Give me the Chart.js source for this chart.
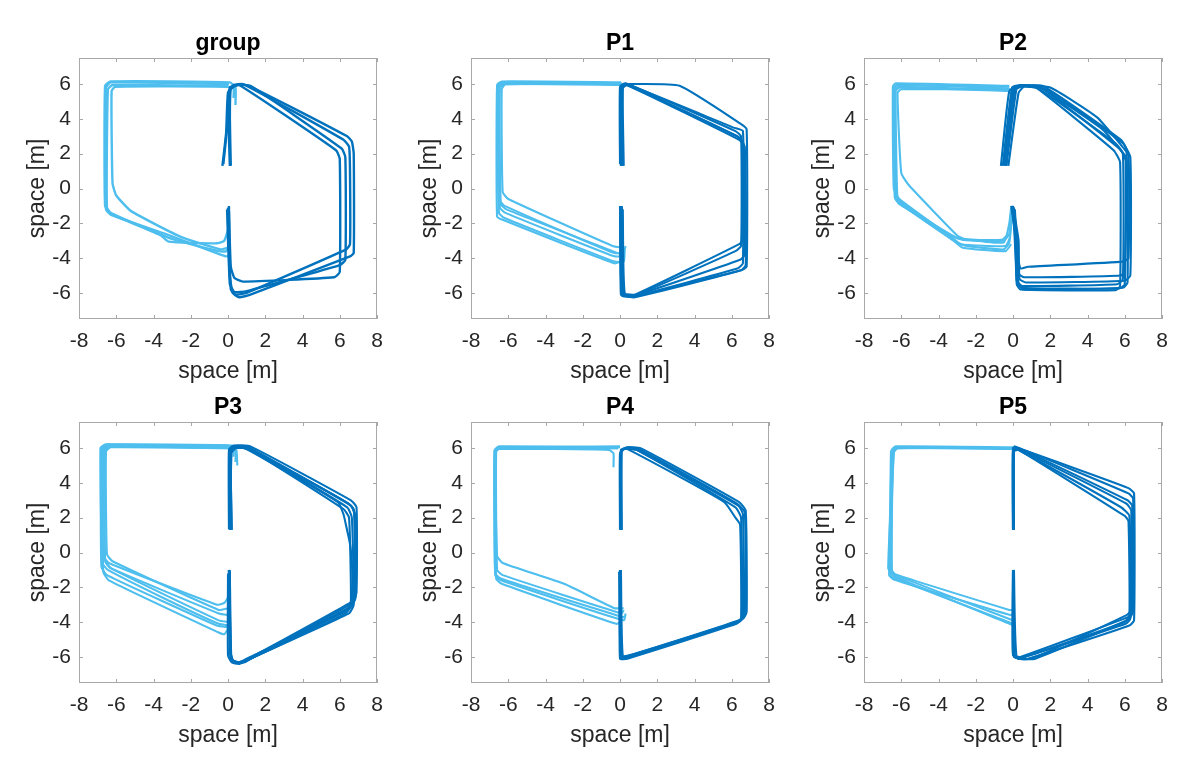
<!DOCTYPE html>
<html>
<head>
<meta charset="utf-8">
<title>Trajectories</title>
<script src="https://cdn.jsdelivr.net/npm/chart.js@4/dist/chart.umd.min.js"></script>
<style>
  body { margin: 0; background: #fff; }
  #wrap { position: relative; width: 1200px; height: 759px; overflow: hidden; }
  canvas { position: absolute; }
</style>
</head>
<body>
<div id="wrap"></div>
<script>
// Axis ticks and titles
const xTicks = [-8, -6, -4, -2, 0, 2, 4, 6, 8];
const yTicks = [-6, -4, -2, 0, 2, 4, 6];
const xRange = [-8, 8];
const yRange = [-7.5, 7.5];
const panelTitles = ['group', 'P1', 'P2', 'P3', 'P4', 'P5'];

// Each trace is a list of [x, y] points in metres
// "Left" = light blue loop, "Right" = dark blue loop
const groupLeft = [
  [[0.4,4.8],[0.4,5.8],[0.1,6.1],[-6.3,6.15],[-6.6,5.9],[-6.6,-1.0],[-6.3,-1.4],[-3.6,-2.7],[-3.2,-3.05],[-0.6,-3.15],[-0.2,-3.0],[0.0,-2.4]],
  [[0.0,5.9],[-6.2,5.95],[-6.45,5.7],[-6.5,-1.1],[-6.2,-1.5],[-3.0,-2.9],[-0.5,-3.6],[-0.1,-3.6],[0.05,-3.2]],
  [[0.3,5.2],[0.3,5.75],[0.0,5.85],[-6.05,5.85],[-6.25,5.6],[-6.2,0.3],[-6.0,-0.4],[-5.2,-1.3],[-2.5,-2.8],[-0.4,-3.5],[0.0,-3.4]],
  [[0.05,6.0],[-6.3,6.1],[-6.55,5.8],[-6.55,-1.2],[-6.3,-1.5],[-3.4,-2.6],[-0.4,-3.8],[0.0,-3.9],[0.1,-3.6]]
];
const groupRight = [
  [[0.1,1.3],[0.05,3.0],[0.05,5.6],[0.3,5.95],[0.8,6.0],[1.5,5.7],[6.4,3.0],[6.65,2.7],[6.75,2.0],[6.75,-3.7],[6.55,-3.9],[1.2,-6.1],[0.6,-6.25],[0.25,-6.0],[0.1,-5.0],[0.05,-1.0]],
  [[-0.3,1.3],[-0.1,3.2],[0.0,5.5],[0.3,5.9],[0.9,5.95],[6.2,2.8],[6.5,2.4],[6.55,1.0],[6.55,-3.2],[6.35,-3.5],[1.0,-6.0],[0.4,-6.1],[0.15,-5.8],[0.0,-1.1]],
  [[0.15,1.3],[0.1,4.0],[0.15,5.7],[0.5,5.95],[1.2,5.9],[6.1,2.3],[6.3,1.8],[6.3,-4.1],[6.0,-4.4],[1.0,-5.9],[0.35,-5.95],[0.1,-5.5],[-0.05,-1.2]],
  [[-0.25,1.4],[0.0,4.0],[0.1,5.8],[0.6,5.95],[5.8,2.2],[6.0,1.7],[6.0,-4.8],[5.7,-5.1],[0.8,-5.35],[0.35,-5.15],[0.15,-4.5],[0.05,-1.3]]
];

const p1Left = [
  [[0.1,6.05],[-6.3,6.1],[-6.55,5.9],[-6.5,-1.4],[-6.2,-1.7],[-0.3,-4.2],[0.2,-4.2],[0.25,-3.6]],
  [[0.0,6.0],[-6.2,6.0],[-6.45,5.8],[-6.4,-0.9],[-6.1,-1.2],[-0.4,-3.6],[0.1,-3.8]],
  [[0.05,6.1],[-6.35,6.15],[-6.6,5.95],[-6.6,-1.6],[-6.3,-1.8],[-0.3,-4.3],[0.2,-4.1]],
  [[0.1,5.95],[-6.15,6.0],[-6.35,5.7],[-6.3,-0.2],[-6.0,-0.6],[-0.4,-3.3],[0.15,-3.4]],
  [[0.0,6.05],[-6.25,6.1],[-6.5,5.85],[-6.45,-1.1],[-6.15,-1.4],[-0.3,-3.9],[0.25,-3.9]],
  [[0.05,6.0],[-6.3,6.05],[-6.55,5.8],[-6.5,-0.6],[-6.2,-1.0],[-0.35,-3.7],[0.2,-3.7],[0.3,-3.3]]
];
const p1Right = [
  [[0.05,1.3],[0.05,5.8],[0.3,6.0],[6.3,3.0],[6.55,2.7],[6.6,-4.3],[6.3,-4.6],[0.7,-6.2],[0.15,-6.05],[0.05,-1.0]],
  [[0.15,1.35],[0.1,5.7],[0.35,5.95],[6.4,2.8],[6.7,2.4],[6.75,-4.4],[6.5,-4.7],[0.8,-6.25],[0.2,-6.1],[0.1,-1.1]],
  [[0.1,1.3],[0.15,5.9],[0.5,6.0],[3.2,5.9],[6.5,3.7],[6.8,3.4],[6.8,-4.5],[6.5,-4.7],[0.7,-6.2],[0.1,-6.0],[0.0,-1.0]],
  [[0.0,1.4],[0.0,5.85],[0.3,6.05],[6.2,3.3],[6.5,3.0],[6.5,-3.3],[6.2,-3.6],[0.9,-6.1],[0.25,-6.0],[0.15,-1.2]],
  [[0.2,1.3],[0.15,5.8],[0.4,5.95],[6.45,2.9],[6.65,2.5],[6.7,-3.8],[6.45,-4.1],[0.8,-6.15],[0.1,-6.15],[0.0,-1.0]],
  [[0.1,1.3],[0.05,5.9],[0.35,6.0],[6.1,3.5],[6.6,3.3],[6.6,-2.9],[6.4,-3.2],[0.6,-6.2],[0.05,-6.1],[0.1,-1.0]]
];

const p2Left = [
  [[-0.2,5.75],[-6.2,5.95],[-6.4,5.75],[-6.35,-0.5],[-6.1,-0.9],[-3.1,-2.8],[-2.7,-2.95],[-0.5,-3.0],[-0.2,-2.6],[-0.1,-1.3]],
  [[-0.25,5.6],[-6.1,5.8],[-6.3,5.6],[-6.2,-0.7],[-5.9,-1.0],[-3.0,-3.1],[-2.5,-3.3],[-0.5,-3.5],[-0.2,-3.1],[-0.05,-1.6]],
  [[-0.2,5.9],[-6.3,6.05],[-6.45,5.85],[-6.4,0.0],[-6.1,-0.6],[-3.3,-2.8],[-2.8,-3.2],[-0.4,-3.3],[-0.15,-2.8]],
  [[-0.15,5.7],[-6.0,5.7],[-6.2,5.5],[-6.0,0.9],[-5.6,0.2],[-3.0,-2.7],[-2.6,-2.9],[-0.5,-3.1],[-0.2,-2.0],[-0.1,-1.1]],
  [[-0.2,5.85],[-6.25,5.95],[-6.4,5.7],[-6.3,-0.6],[-6.0,-0.9],[-3.2,-3.0],[-2.7,-3.4],[-0.4,-3.6],[-0.1,-3.2]],
  [[-0.3,5.65],[-6.15,5.85],[-6.35,5.6],[-6.3,-0.3],[-6.0,-0.8],[-3.0,-2.85],[-0.6,-2.95],[-0.25,-2.6]]
];
const p2Right = [
  [[-0.65,1.3],[-0.2,5.6],[0.3,5.9],[1.2,5.85],[5.5,2.6],[5.9,2.0],[5.9,-5.2],[5.6,-5.5],[0.5,-5.6],[0.2,-5.3],[0.15,-3.0],[-0.05,-1.0]],
  [[-0.4,1.3],[0.1,5.7],[0.5,5.9],[1.5,5.8],[5.7,2.3],[6.1,1.7],[6.15,-5.4],[5.9,-5.7],[0.6,-5.8],[0.3,-5.5],[0.2,-3.5],[0.05,-1.1]],
  [[-0.25,1.3],[0.3,5.5],[0.6,5.85],[1.8,5.7],[5.9,2.6],[6.3,1.8],[6.3,-5.0],[6.0,-5.3],[0.7,-5.4],[0.35,-5.2],[0.3,-3.0],[0.0,-1.0]],
  [[-0.55,1.3],[-0.05,5.8],[0.4,5.95],[2.0,5.8],[4.5,4.1],[5.8,2.5],[6.2,1.9],[6.2,-4.0],[5.9,-4.2],[0.8,-4.5],[0.4,-4.6],[0.25,-3.8],[0.1,-1.2]],
  [[-0.35,1.3],[0.2,5.8],[0.6,5.9],[1.3,5.75],[5.4,2.2],[5.75,1.5],[5.75,-5.6],[5.5,-5.85],[0.4,-5.8],[0.2,-5.5],[0.1,-2.5],[-0.1,-1.0]],
  [[-0.5,1.35],[0.0,5.6],[0.45,5.85],[1.6,5.9],[5.8,2.8],[6.1,2.2],[6.0,-4.7],[5.8,-5.0],[0.6,-5.1],[0.3,-4.9],[0.2,-3.0],[0.0,-1.1]],
  [[-0.45,1.3],[0.05,5.75],[0.5,5.95],[1.4,5.85],[4.8,3.4],[5.85,2.1],[6.05,1.6],[6.0,-5.5],[5.7,-5.75],[0.5,-5.7],[0.25,-5.4],[0.15,-4.0],[0.0,-1.05]]
];

const p3Left = [
  [[0.5,5.0],[0.45,5.9],[0.2,6.15],[-6.5,6.2],[-6.75,6.0],[-6.7,-0.2],[-6.4,-0.6],[-0.6,-3.0],[-0.2,-2.9],[0.05,-2.5]],
  [[0.1,6.05],[-6.4,6.1],[-6.65,5.9],[-6.6,-0.5],[-6.3,-0.9],[-0.5,-3.5],[0.1,-3.6]],
  [[0.3,5.5],[0.3,5.95],[0.1,6.1],[-6.55,6.2],[-6.8,5.95],[-6.8,-0.8],[-6.5,-1.3],[-0.6,-4.2],[0.0,-4.3]],
  [[0.05,6.0],[-6.3,6.05],[-6.55,5.8],[-6.5,-0.1],[-6.2,-0.5],[-0.5,-3.3],[0.0,-3.2]],
  [[0.1,6.1],[-6.45,6.15],[-6.7,5.9],[-6.7,-1.1],[-6.4,-1.6],[-0.5,-4.6],[-0.2,-4.7],[0.0,-4.4]],
  [[0.4,5.2],[0.4,5.85],[0.15,6.0],[-6.35,6.1],[-6.6,5.85],[-6.6,-0.4],[-6.3,-0.9],[-0.5,-3.9],[0.05,-4.0]],
  [[0.0,6.15],[-6.6,6.2],[-6.85,6.0],[-6.75,-0.6],[-6.45,-1.0],[-3.5,-2.6],[-0.5,-4.1],[0.1,-4.2]]
];
const p3Right = [
  [[0.1,1.3],[0.1,5.8],[0.4,6.1],[1.0,6.05],[6.5,2.8],[6.8,2.3],[6.85,-2.6],[6.6,-3.1],[1.2,-6.1],[0.7,-6.35],[0.25,-6.2],[0.1,-5.5],[0.05,-1.0]],
  [[0.2,1.3],[0.15,5.7],[0.45,6.0],[1.1,5.95],[6.2,2.5],[6.5,2.0],[6.6,-2.8],[6.4,-3.3],[1.0,-6.2],[0.5,-6.3],[0.15,-6.1],[0.1,-1.1]],
  [[0.05,1.35],[0.05,5.9],[0.3,6.15],[1.2,6.1],[6.6,3.0],[6.9,2.6],[6.9,-2.3],[6.7,-2.8],[1.3,-6.0],[0.8,-6.3],[0.3,-6.25],[0.15,-5.8],[0.1,-1.0]],
  [[0.15,1.3],[0.1,5.8],[0.35,6.05],[0.9,6.0],[5.9,2.9],[6.2,2.2],[6.35,1.5],[6.55,0.5],[6.65,-0.5],[6.7,-2.9],[6.3,-3.5],[0.9,-6.25],[0.2,-6.3],[0.0,-5.9],[0.0,-1.2]],
  [[0.1,1.3],[0.2,5.85],[0.5,6.1],[1.1,6.0],[6.4,2.6],[6.65,2.0],[6.75,-3.0],[6.5,-3.5],[1.1,-6.15],[0.6,-6.4],[0.2,-6.3],[0.05,-1.0]],
  [[0.2,1.3],[0.15,5.8],[0.4,6.05],[1.0,5.95],[4.5,4.0],[6.6,2.7],[6.85,2.0],[6.85,-2.5],[6.55,-3.0],[1.3,-6.05],[0.9,-6.3],[0.3,-6.3],[0.15,-6.0],[0.1,-1.1]],
  [[0.1,1.3],[0.1,5.9],[0.45,6.1],[1.2,6.0],[6.3,2.9],[6.75,2.5],[6.8,-2.7],[6.45,-3.3],[1.0,-6.1],[0.6,-6.3],[0.15,-6.2],[0.05,-1.0]]
];

const p4Left = [
  [[0.0,6.05],[-6.5,6.1],[-6.7,5.9],[-6.7,-1.3],[-6.4,-1.6],[0.2,-3.9],[0.3,-3.5]],
  [[-0.1,6.0],[-6.45,6.0],[-6.65,5.8],[-6.6,-1.0],[-6.3,-1.3],[0.1,-3.5],[0.2,-3.3]],
  [[-0.35,4.9],[-0.35,5.7],[-0.6,5.9],[-6.5,5.95],[-6.7,5.75],[-6.65,-1.5],[-6.35,-1.8],[-0.2,-4.1],[0.1,-4.0]],
  [[0.0,6.1],[-6.5,6.05],[-6.7,5.85],[-6.6,-0.2],[-6.3,-0.6],[-3.0,-1.8],[-0.3,-3.2],[0.2,-3.2]],
  [[-0.1,6.0],[-6.55,6.05],[-6.75,5.85],[-6.7,-1.2],[-6.4,-1.5],[0.1,-3.7],[0.3,-3.7]]
];
const p4Right = [
  [[0.05,1.3],[0.05,5.8],[0.3,6.0],[1.0,5.95],[6.3,2.8],[6.7,2.3],[6.75,-3.5],[6.5,-3.9],[0.6,-5.9],[0.1,-6.0],[0.0,-1.0]],
  [[0.0,1.35],[0.0,5.7],[0.25,5.95],[0.9,5.9],[6.2,2.6],[6.5,2.0],[6.55,-3.7],[6.3,-4.0],[0.5,-6.0],[0.05,-6.1],[-0.05,-1.1]],
  [[0.1,1.3],[0.1,5.85],[0.35,6.05],[1.1,6.0],[6.4,2.9],[6.75,2.4],[6.8,-3.4],[6.6,-3.8],[0.7,-5.85],[0.15,-5.95],[0.05,-1.0]],
  [[0.05,1.3],[0.05,5.8],[0.3,6.0],[5.6,2.9],[6.2,2.0],[6.45,1.6],[6.5,-3.8],[6.25,-4.1],[0.4,-6.1],[0.0,-6.1],[0.0,-1.0]],
  [[0.0,1.3],[0.05,5.9],[0.4,6.0],[1.0,5.85],[6.35,2.7],[6.6,2.2],[6.65,-3.6],[6.4,-4.0],[0.6,-5.95],[0.1,-6.05],[0.05,-1.2]]
];

const p5Left = [
  [[0.0,6.0],[-6.25,6.05],[-6.45,5.85],[-6.5,-1.0],[-6.3,-1.3],[0.0,-3.9]],
  [[0.05,5.95],[-6.2,6.0],[-6.4,5.8],[-6.6,-1.2],[-6.4,-1.45],[0.0,-4.1]],
  [[0.0,6.05],[-6.3,6.1],[-6.5,5.9],[-6.65,-1.3],[-6.4,-1.55],[-0.1,-3.6],[0.05,-3.4]],
  [[-0.05,6.0],[-6.2,6.0],[-6.4,5.75],[-6.7,-0.9],[-6.45,-1.2],[-0.2,-3.3],[0.0,-3.3]],
  [[0.0,5.95],[-6.3,6.05],[-6.55,5.8],[-6.55,-1.1],[-6.3,-1.4],[0.05,-4.2]]
];
const p5Right = [
  [[0.0,1.3],[0.0,5.9],[0.1,6.1],[6.2,3.4],[6.45,3.1],[6.45,-3.4],[6.2,-3.7],[0.4,-6.0],[0.0,-5.9],[0.0,-1.0]],
  [[0.05,1.3],[0.05,5.8],[0.3,5.9],[6.0,2.1],[6.2,1.8],[6.25,-3.6],[6.0,-4.0],[0.5,-6.05],[0.05,-6.0],[0.0,-1.1]],
  [[0.0,1.35],[0.0,6.0],[0.2,6.0],[6.1,2.8],[6.35,2.4],[6.35,-3.3],[6.1,-3.6],[1.0,-6.1],[0.2,-6.05],[0.05,-1.0]],
  [[0.05,1.3],[0.05,5.9],[0.25,6.0],[6.2,3.7],[6.5,3.4],[6.5,-3.9],[6.25,-4.2],[0.8,-6.1],[0.1,-6.0],[0.0,-1.2]],
  [[0.0,1.3],[0.0,5.85],[0.2,5.95],[5.8,2.6],[6.25,2.1],[6.3,-3.8],[6.05,-4.1],[0.6,-6.0],[0.05,-5.95],[0.05,-1.0]],
  [[0.05,1.3],[0.05,5.9],[0.3,6.0],[6.15,3.0],[6.4,2.7],[6.4,-3.5],[6.2,-3.85],[1.2,-6.1],[0.3,-6.1],[0.0,-5.8],[0.0,-1.0]]
];

const LIGHT = '#4DBEEE';
const DARK = '#0072BD';
const TEXT = '#262626';
const FONT = "'Liberation Sans', Arial, Helvetica, sans-serif";

// Box, inward tick marks and panel title (MATLAB look)
const frame = {
  id: 'frame',
  afterDraw(chart, args, opts) {
    const { ctx, chartArea: a, scales: { x, y } } = chart;
    ctx.save();
    ctx.strokeStyle = '#a8a8a8';
    ctx.lineWidth = 1;
    ctx.strokeRect(Math.round(a.left) + 0.5, Math.round(a.top) + 0.5,
      Math.round(a.width) - 1, Math.round(a.height) - 1);
    ctx.beginPath();
    x.ticks.forEach(t => {
      const px = Math.round(x.getPixelForValue(t.value)) + 0.5;
      ctx.moveTo(px, a.bottom); ctx.lineTo(px, a.bottom - 4);
      ctx.moveTo(px, a.top); ctx.lineTo(px, a.top + 4);
    });
    y.ticks.forEach(t => {
      const py = Math.round(y.getPixelForValue(t.value)) + 0.5;
      ctx.moveTo(a.left, py); ctx.lineTo(a.left + 4, py);
      ctx.moveTo(a.right, py); ctx.lineTo(a.right - 4, py);
    });
    ctx.stroke();
    ctx.fillStyle = '#000';
    ctx.font = 'bold 23px ' + FONT;
    ctx.textAlign = 'center';
    ctx.textBaseline = 'alphabetic';
    ctx.fillText(opts.text, (a.left + a.right) / 2, a.top - 8);
    ctx.restore();
  }
};

function traceSets(traces, color, width) {
  return traces.map(t => ({
    data: t.map(([x, y]) => ({ x, y })),
    showLine: true,
    borderColor: color,
    borderWidth: width,
    pointRadius: 0,
    tension: 0.15,
    fill: false
  }));
}

function makePanel(index, left, right, lineWidth) {
  const col = index % 3, row = Math.floor(index / 3);
  const canvas = document.createElement('canvas');
  canvas.width = 400;
  canvas.height = 395;
  canvas.style.left = [0, 392, 785][col] + 'px';
  canvas.style.top = (row * 364) + 'px';
  document.getElementById('wrap').appendChild(canvas);

  new Chart(canvas, {
    type: 'scatter',
    data: {
      // dark loop first so it sits on top
      datasets: traceSets(right, DARK, lineWidth).concat(traceSets(left, LIGHT, lineWidth))
    },
    options: {
      responsive: false,
      animation: false,
      layout: { padding: { left: 0, right: 23, top: 58, bottom: 10 } },
      plugins: { legend: { display: false }, tooltip: { enabled: false }, frame: { text: panelTitles[index] } },
      scales: {
        x: {
          type: 'linear',
          min: xRange[0], max: xRange[1],
          afterBuildTicks: s => { s.ticks = xTicks.map(v => ({ value: v })); },
          afterFit: s => { s.height = 66; },
          grid: { display: false, drawTicks: false },
          border: { display: false },
          ticks: { color: TEXT, font: { family: FONT, size: 21 }, padding: 10, maxRotation: 0, autoSkip: false, callback: v => String(v) },
          title: { display: true, text: 'space [m]', color: TEXT, font: { family: FONT, size: 23 }, padding: { top: 0, bottom: 0 } }
        },
        y: {
          type: 'linear',
          min: yRange[0], max: yRange[1],
          afterBuildTicks: s => { s.ticks = yTicks.map(v => ({ value: v })); },
          afterFit: s => { s.width = 79; },
          grid: { display: false, drawTicks: false },
          border: { display: false },
          ticks: { color: TEXT, font: { family: FONT, size: 21 }, padding: 8, autoSkip: false, callback: v => String(v) },
          title: { display: true, text: 'space [m]', color: TEXT, font: { family: FONT, size: 23 }, padding: { top: 24, bottom: 0 } }
        }
      }
    },
    plugins: [frame]
  });
}

makePanel(0, groupLeft, groupRight, 2.4);
makePanel(1, p1Left, p1Right, 2.1);
makePanel(2, p2Left, p2Right, 2.1);
makePanel(3, p3Left, p3Right, 2.1);
makePanel(4, p4Left, p4Right, 2.1);
makePanel(5, p5Left, p5Right, 2.1);
</script>
</body>
</html>
